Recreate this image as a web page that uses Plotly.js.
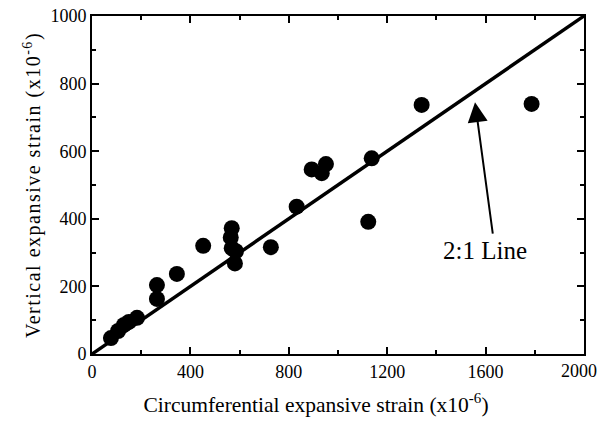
<!DOCTYPE html>
<html>
<head>
<meta charset="utf-8">
<script src="https://cdn.plot.ly/plotly-3.0.1.min.js"></script>
<style>
html,body{margin:0;padding:0;background:#fff;}
#chart{width:600px;height:423px;}
.g-ytitle text{letter-spacing:1.5px;}
.g-xtitle{transform:translateX(-22px);}
</style>
</head>
<body>
<div id="chart"></div>
<script>
// Data
const circumStrain = [77, 106, 130, 150, 183, 264, 264, 345, 452, 568, 564, 568, 585, 581, 727, 832, 893, 934, 951, 1123, 1137, 1340, 1787];
const verticalStrain = [47, 68, 86, 95, 107, 204, 163, 237, 320, 372, 345, 313, 304, 268, 316, 436, 546, 535, 562, 391, 579, 737, 740];
const refLineX = [0, 2000];
const refLineY = [0, 1000];
const arrowTail = [1630, 352];
const arrowHead = [1557, 745];
const lineLabel = "2:1 Line";
const labelPos = [1598, 305];
const xTicks = [0, 400, 800, 1200, 1600, 2000];
const xTickText = ['0', '400', '800', '1200', '1600', '2000'];
const yTicks = [0, 200, 400, 600, 800, 1000];
const xMinor = [200, 600, 1000, 1400, 1800];
const yMinor = [100, 300, 500, 700, 900];

const font = "Liberation Serif, Times New Roman, serif";

const traces = [
  {x: refLineX, y: refLineY, mode: 'lines', line: {color: '#000', width: 3.5}, hoverinfo: 'skip', showlegend: false},
  {x: circumStrain, y: verticalStrain, mode: 'markers', marker: {color: '#000', size: 16}, showlegend: false}
];

const axisCommon = {
  showgrid: false, zeroline: false, showline: true, linecolor: '#000', linewidth: 2,
  mirror: 'ticks', ticks: 'inside', ticklen: 7, tickwidth: 2, tickcolor: '#000',
  tickfont: {family: font, size: 18, color: '#000'}
};

// the last x tick label is drawn as an annotation, nudged left so it stays inside the page
const lastX = xTicks[xTicks.length - 1];
const shownXText = xTickText.map((t, i) => i === xTickText.length - 1 ? '' : t);

const layout = {
  width: 600, height: 423,
  margin: {l: 92, r: 16, t: 16, b: 69},
  paper_bgcolor: '#fff', plot_bgcolor: '#fff',
  font: {family: font, color: '#000'},
  xaxis: Object.assign({}, axisCommon, {
    range: [0, 2000], tickmode: 'array', tickvals: xTicks, ticktext: shownXText,
    minor: {tickvals: xMinor, ticks: 'inside', ticklen: 4, tickwidth: 2, tickcolor: '#000'},
    title: {text: 'Circumferential expansive strain (x10<sup>-6</sup>)', font: {family: font, size: 21.5, color: '#000'}, standoff: 16}
  }),
  yaxis: Object.assign({}, axisCommon, {
    range: [0, 1000], tickvals: yTicks,
    minor: {tickvals: yMinor, ticks: 'inside', ticklen: 4, tickwidth: 2, tickcolor: '#000'},
    title: {text: 'Vertical expansive strain (x10<sup>-6</sup>)', font: {family: font, size: 20, color: '#000'}, standoff: 4}
  }),
  annotations: [
    {x: arrowHead[0], y: arrowHead[1], ax: arrowTail[0], ay: arrowTail[1], axref: 'x', ayref: 'y', xref: 'x', yref: 'y',
     text: '', showarrow: true, arrowhead: 2, arrowsize: 2, arrowwidth: 2, arrowcolor: '#000', standoff: 0},
    {x: labelPos[0], y: labelPos[1], xref: 'x', yref: 'y', text: lineLabel, showarrow: false,
     font: {family: font, size: 25, color: '#000'}},
    {x: lastX, y: 0, xref: 'x', yref: 'paper', text: xTickText[xTickText.length - 1], showarrow: false,
     xanchor: 'center', yanchor: 'middle', xshift: -5, yshift: -17,
     font: {family: font, size: 18, color: '#000'}}
  ]
};

Plotly.newPlot('chart', traces, layout, {displayModeBar: false, staticPlot: true});
</script>
</body>
</html>
